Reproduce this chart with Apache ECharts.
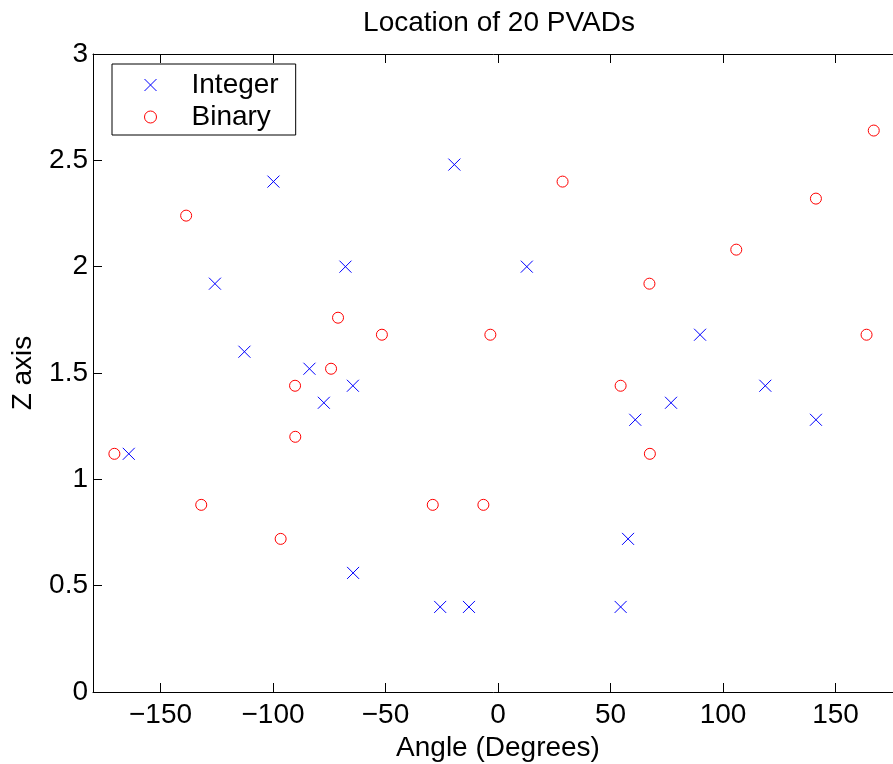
<!DOCTYPE html>
<html>
<head>
<meta charset="utf-8">
<script src="https://cdn.jsdelivr.net/npm/echarts@6/dist/echarts.min.js"></script>
<style>
html,body{margin:0;padding:0;background:#fff;}
#chart{width:893px;height:764px;}
</style>
</head>
<body>
<div id="chart"></div>
<script>
// Data
var chartTitle = 'Location of 20 PVADs';
var xAxisTitle = 'Angle (Degrees)';
var yAxisTitle = 'Z axis';
var seriesNames = ['Integer', 'Binary'];

var intAngle = [-164.1, -125.8, -112.7, -99.8, -83.8, -77.4, -67.8, -64.5, -64.4, -25.7,
                -19.4, -12.9, 12.8, 54.5, 57.8, 61.0, 76.9, 89.8, 118.8, 141.3];
var intZ     = [1.12, 1.92, 1.60, 2.40, 1.52, 1.36, 2.00, 1.44, 0.56, 0.40,
                2.48, 0.40, 2.00, 0.40, 0.72, 1.28, 1.36, 1.68, 1.44, 1.28];

var binAngle = [-170.5, -138.6, -131.9, -96.6, -90.2, -90.1, -74.2, -71.1, -51.6, -29.0,
                -6.5, -3.4, 28.7, 54.5, 67.3, 67.5, 105.9, 141.3, 163.8, 167.0];
var binZ     = [1.12, 2.24, 0.88, 0.72, 1.44, 1.20, 1.52, 1.76, 1.68, 0.88,
                0.88, 1.68, 2.40, 1.44, 1.92, 1.12, 2.08, 2.32, 1.68, 2.64];

var xMin = -180, xMax = 180;
var yMin = 0, yMax = 3, yStep = 0.5;

function pairs(a, b) {
  var out = [];
  for (var i = 0; i < a.length; i++) out.push([a[i], b[i]]);
  return out;
}

var FONT = '"Liberation Sans", Arial, Helvetica, sans-serif';
var FS = 28;

var chart = echarts.init(document.getElementById('chart'), null, {renderer: 'canvas'});

function xLabel(v) {
  if (v % 50 !== 0) return '';
  return v < 0 ? '\u2212' + Math.abs(v) : String(v);
}

var option = {
  backgroundColor: '#ffffff',
  animation: false,
  graphic: [{
    type: 'text',
    x: 499, y: 23,
    style: {
      text: chartTitle,
      font: FS + 'px ' + FONT,
      fill: '#000',
      textAlign: 'center',
      textVerticalAlign: 'middle'
    }
  }],
  grid: {left: 93, top: 54, right: -10, bottom: 72, containLabel: false, outerBoundsMode: 'none'},
  legend: {
    orient: 'vertical',
    left: 112, top: 64,
    padding: [7, 17, 4, 32],
    itemWidth: 72, itemHeight: 12, itemGap: 4,
    borderColor: '#000', borderWidth: 1, borderRadius: 0,
    backgroundColor: '#fff',
    itemStyle: {borderWidth: 1},
    textStyle: {fontSize: FS, fontFamily: FONT, color: '#000'},
    data: seriesNames
  },
  xAxis: [{
    type: 'value', position: 'bottom',
    min: xMin, max: xMax, splitNumber: 7,
    axisLine: {show: true, onZero: false, lineStyle: {color: '#000', width: 1}},
    axisTick: {show: true, inside: true, length: 9, lineStyle: {color: '#000', width: 1}},
    axisLabel: {show: true, margin: 9, fontSize: FS, fontFamily: FONT, color: '#000',
                showMinLabel: false, showMaxLabel: false, formatter: xLabel},
    splitLine: {show: false},
    name: xAxisTitle, nameLocation: 'middle', nameGap: 35,
    nameTextStyle: {fontSize: FS, fontFamily: FONT, color: '#000'}
  }, {
    type: 'value', position: 'top',
    min: xMin, max: xMax, splitNumber: 7,
    axisLine: {show: true, onZero: false, lineStyle: {color: '#000', width: 1}},
    axisTick: {show: true, inside: true, length: 9, lineStyle: {color: '#000', width: 1}},
    axisLabel: {show: false},
    splitLine: {show: false}
  }],
  yAxis: [{
    type: 'value', position: 'left',
    min: yMin, max: yMax, interval: yStep,
    axisLine: {show: true, onZero: false, lineStyle: {color: '#000', width: 1}},
    axisTick: {show: true, inside: true, length: 9, lineStyle: {color: '#000', width: 1}},
    axisLabel: {show: true, margin: 5, fontSize: FS, fontFamily: FONT, color: '#000'},
    splitLine: {show: false},
    name: yAxisTitle, nameLocation: 'middle', nameGap: 56,
    nameTextStyle: {fontSize: FS, fontFamily: FONT, color: '#000'}
  }, {
    type: 'value', position: 'right',
    min: yMin, max: yMax, interval: yStep,
    axisLine: {show: true, onZero: false, lineStyle: {color: '#000', width: 1}},
    axisTick: {show: true, inside: true, length: 9, lineStyle: {color: '#000', width: 1}},
    axisLabel: {show: false},
    splitLine: {show: false}
  }],
  series: [{
    name: seriesNames[0],
    type: 'scatter',
    xAxisIndex: 0, yAxisIndex: 0,
    symbol: 'path://M0,0L10,10M10,0L0,10',
    symbolSize: 12,
    itemStyle: {color: 'rgba(0,0,0,0)', borderColor: '#0000ff', borderWidth: 1, opacity: 1},
    emphasis: {disabled: true},
    data: pairs(intAngle, intZ)
  }, {
    name: seriesNames[1],
    type: 'scatter',
    xAxisIndex: 0, yAxisIndex: 0,
    symbol: 'circle',
    symbolSize: 11,
    itemStyle: {color: 'rgba(0,0,0,0)', borderColor: '#ff0000', borderWidth: 1, opacity: 1},
    emphasis: {disabled: true},
    data: pairs(binAngle, binZ)
  }]
};

chart.setOption(option);
</script>
</body>
</html>
